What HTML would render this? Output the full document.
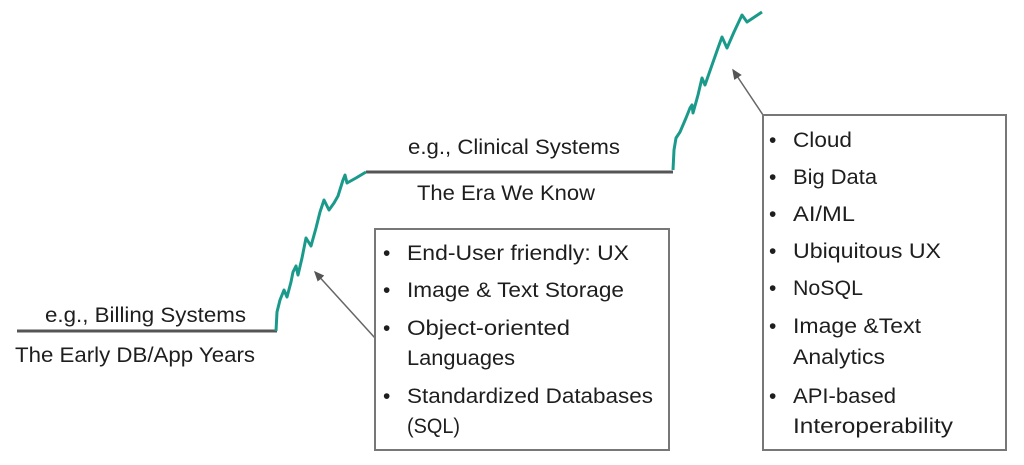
<!DOCTYPE html>
<html><head><meta charset="utf-8"><style>
html,body{margin:0;padding:0;background:#fff;width:1024px;height:465px;overflow:hidden}
svg text{font-family:"Liberation Sans",sans-serif;font-size:21px;fill:#1e1e1e}
</style></head><body>
<svg width="1024" height="465" viewBox="0 0 1024 465">
<defs><marker id="ah" markerWidth="8" markerHeight="8" refX="6" refY="4" orient="auto"><path d="M0,1 L7,4 L0,7 Z" fill="#555"/></marker></defs>
<g stroke="#555" stroke-width="3" fill="none">
<line x1="17" y1="331" x2="277" y2="331"/>
<line x1="366" y1="172" x2="673" y2="172"/>
</g>
<g stroke="#1a9a8a" stroke-width="3" fill="none" stroke-linejoin="round">
<polyline points="276,331 277,312 280,300 284,290 287,297 291,282 293,272 296,266 298,275 302,258 306,238 311,246 316,228 320,212 324,200 329,210 334,203 338,196 343,180 345,175 347,183 356,178 366,172"/>
<polyline points="673,170 674,150 676,138 680,132 686,118 690,108 692,105 693,113 698,95 702,78 705,85 712,65 718,48 722,37 727,48 734,32 742,15 747,22 762,12"/>
</g>
<g stroke="#666" stroke-width="1.5" fill="none">
<line x1="375" y1="338" x2="315" y2="272" marker-end="url(#ah)"/>
<line x1="763" y1="115" x2="733" y2="70" marker-end="url(#ah)"/>
<rect x="375" y="229" width="294" height="221" stroke="#777" stroke-width="2"/>
<rect x="763" y="115" width="243" height="335" stroke="#777" stroke-width="2"/>
</g>
<text x="45" y="322" textLength="201" lengthAdjust="spacingAndGlyphs">e.g., Billing Systems</text>
<text x="15" y="362" textLength="240" lengthAdjust="spacingAndGlyphs">The Early DB/App Years</text>
<text x="408" y="154" textLength="212" lengthAdjust="spacingAndGlyphs">e.g., Clinical Systems</text>
<text x="417" y="200" textLength="178" lengthAdjust="spacingAndGlyphs">The Era We Know</text>
<g>
<text x="383" y="260">•</text><text x="407" y="260" textLength="222" lengthAdjust="spacingAndGlyphs">End-User friendly: UX</text>
<text x="383" y="297">•</text><text x="407" y="297" textLength="217" lengthAdjust="spacingAndGlyphs">Image &amp; Text Storage</text>
<text x="383" y="335">•</text><text x="407" y="335" textLength="163" lengthAdjust="spacingAndGlyphs">Object-oriented</text>
<text x="407" y="365" textLength="108" lengthAdjust="spacingAndGlyphs">Languages</text>
<text x="383" y="403">•</text><text x="407" y="403" textLength="246" lengthAdjust="spacingAndGlyphs">Standardized Databases</text>
<text x="407" y="433" textLength="53" lengthAdjust="spacingAndGlyphs">(SQL)</text>
</g>
<g>
<text x="769" y="147">•</text><text x="793" y="147" textLength="59" lengthAdjust="spacingAndGlyphs">Cloud</text>
<text x="769" y="184">•</text><text x="793" y="184" textLength="84" lengthAdjust="spacingAndGlyphs">Big Data</text>
<text x="769" y="221">•</text><text x="793" y="221" textLength="62" lengthAdjust="spacingAndGlyphs">AI/ML</text>
<text x="769" y="258">•</text><text x="793" y="258" textLength="148" lengthAdjust="spacingAndGlyphs">Ubiquitous UX</text>
<text x="769" y="295">•</text><text x="793" y="295" textLength="70" lengthAdjust="spacingAndGlyphs">NoSQL</text>
<text x="769" y="333">•</text><text x="793" y="333" textLength="128" lengthAdjust="spacingAndGlyphs">Image &amp;Text</text>
<text x="793" y="364" textLength="92" lengthAdjust="spacingAndGlyphs">Analytics</text>
<text x="769" y="403">•</text><text x="793" y="403" textLength="103" lengthAdjust="spacingAndGlyphs">API-based</text>
<text x="793" y="433" textLength="160" lengthAdjust="spacingAndGlyphs">Interoperability</text>
</g>
</svg>
</body></html>
